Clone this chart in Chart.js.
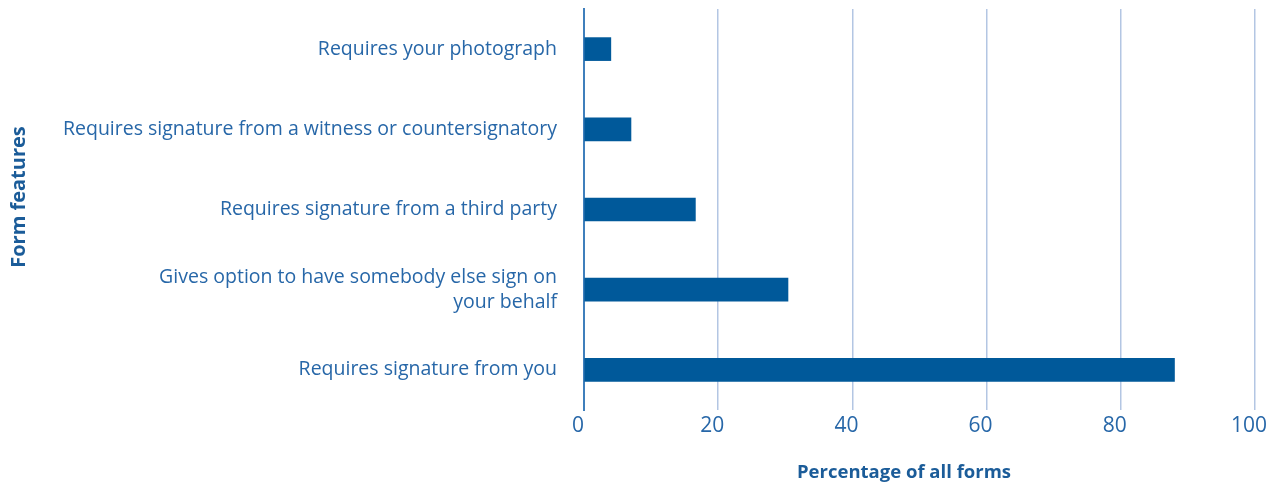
<!DOCTYPE html>
<html>
<head>
<meta charset="utf-8">
<script src="https://cdn.jsdelivr.net/npm/chart.js@4"></script>
<style>
  html, body { margin: 0; padding: 0; background: #ffffff; }
  #wrap { width: 1278px; height: 487px; }
</style>
</head>
<body>
<div id="wrap"><canvas id="c" width="1278" height="487"></canvas></div>
<script>
const categories = [
  "Requires your photograph",
  "Requires signature from a witness or countersignatory",
  "Requires signature from a third party",
  ["Gives option to have somebody else sign on", "your behalf"],
  "Requires signature from you"
];
const values = [4.0, 7.0, 16.6, 30.4, 88.0];
const xTicks = [0, 20, 40, 60, 80, 100];
const xTitle = "Percentage of all forms";
const yTitle = "Form features";

const FONT = "'Open Sans', 'Noto Sans', sans-serif";
const TEXT = '#2767a8';
const TITLE = '#1b5c99';

const titlePlugin = {
  id: 'axisTitles',
  afterDraw(chart) {
    const ctx = chart.ctx;
    ctx.save();
    ctx.fillStyle = TITLE;
    ctx.textAlign = 'center';
    ctx.textBaseline = 'middle';
    ctx.font = "bold 18.5px " + FONT;
    ctx.fillText(xTitle, 904, 473);
    ctx.font = "bold 20px " + FONT;
    ctx.translate(19, 197);
    ctx.rotate(-Math.PI / 2);
    ctx.fillText(yTitle, 0, 0);
    ctx.restore();
  }
};

new Chart(document.getElementById('c'), {
  type: 'bar',
  data: {
    labels: categories,
    datasets: [{
      data: values,
      backgroundColor: '#00599a',
      borderWidth: 0,
      barThickness: 23
    }]
  },
  options: {
    indexAxis: 'y',
    responsive: false,
    animation: false,
    devicePixelRatio: 1,
    layout: { padding: { top: 9, right: 23, bottom: 0, left: 0 } },
    plugins: { legend: { display: false }, tooltip: { enabled: false } },
    scales: {
      x: {
        min: 0, max: 100,
        afterBuildTicks(scale) { scale.ticks = xTicks.map(v => ({ value: v })); },
        afterFit(scale) { scale.height = 77; scale.paddingLeft = 0; scale.paddingRight = 0; },
        grid: { color: '#b3c6e3', lineWidth: 1.5, drawTicks: false },
        border: { display: false },
        ticks: {
          color: TEXT,
          font: { family: FONT, size: 21 },
          padding: 3,
          labelOffset: -6,
          maxRotation: 0
        }
      },
      y: {
        afterFit(scale) { scale.width = 584; scale.paddingTop = 0; scale.paddingBottom = 0; },
        grid: { display: false, drawTicks: false },
        border: { display: true, color: '#3f7fbc', width: 2 },
        ticks: {
          color: TEXT,
          font: { family: FONT, size: 19.5, lineHeight: 1.3 },
          padding: 27,
          autoSkip: false
        }
      }
    }
  },
  plugins: [titlePlugin]
});
</script>
</body>
</html>
